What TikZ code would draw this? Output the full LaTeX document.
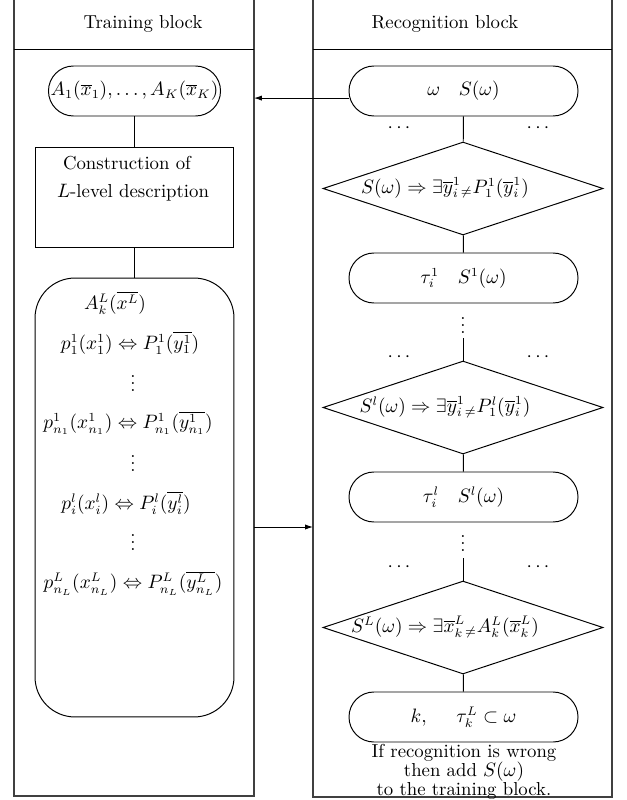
\documentclass[tikz,border=0pt]{standalone}
\usetikzlibrary{arrows.meta,shapes.geometric}
\begin{document}
\begin{tikzpicture}[x=0.565pt,y=-0.565pt,
  every node/.style={font=\fontsize{10.6pt}{12.7pt}\selectfont},
  ln/.style={line width=0.55pt},
  frame/.style={line width=0.8pt,draw=black!75},
  pill/.style={draw,ln,rectangle,rounded corners=14.1pt,minimum width=129.4pt,minimum height=28.25pt,inner sep=0pt},
  boxnode/.style={draw,ln,rectangle,minimum width=112.4pt,inner sep=0pt},
  dia/.style={draw,ln,diamond,aspect=3,minimum width=158.2pt,minimum height=52.5pt,inner sep=0pt},
  arr/.style={ln,-{Latex[length=4.5pt,width=3pt]}},
  txt/.style={inner sep=0pt}]
\useasboundingbox (0,0) rectangle (627,800);
% column frames
\draw[frame] (14,0) -- (14,796) -- (254,796) -- (254,0);
\draw[frame] (313,0) -- (313,797) -- (612,797) -- (612,0);
\draw[ln] (14,49) -- (254,49);
\draw[ln] (313,49) -- (612,49);
\coordinate (trainE) at (254,0);
\node[txt] (th) at (143,24) {Training block};
\node[txt] (rh) at (445,24) {Recognition block};
% training block
\node[pill,minimum width=97.2pt] (pa) at (134.5,91) {$A_1(\overline{x}_1),\ldots,A_K(\overline{x}_K)$};
\node[boxnode,minimum height=56.5pt] (cons) at (134.5,197) {};
\node[txt] (c1) at (127,163) {Construction of};
\node[txt] (c2) at (133,193) {$L$-level description};
\node[boxnode,rounded corners=22.6pt,minimum height=248pt] (desc) at (134.5,497.5) {};
\draw[ln] (pa) -- (cons);
\draw[ln] (cons) -- (desc);
\node[txt] (e0) at (115,303) {$A_k^L(\overline{x^L})$};
\node[txt] (e1) at (130,343) {$p_1^1(x_1^1)\Leftrightarrow P_1^1(\overline{y_1^1})$};
\node[txt] (v1) at (133,378) {$\vdots$};
\node[txt] (e2) at (128,423) {$p_{n_1}^1(x_{n_1}^1)\Leftrightarrow P_{n_1}^1(\overline{y_{n_1}^1})$};
\node[txt] (v2) at (133,458) {$\vdots$};
\node[txt] (e3) at (126,503) {$p_i^l(x_i^l)\Leftrightarrow P_i^l(\overline{y_i^l})$};
\node[txt] (v3) at (133,537) {$\vdots$};
\node[txt] (e4) at (133,583) {$p_{n_L}^L(x_{n_L}^L)\Leftrightarrow P_{n_L}^L(\overline{y_{n_L}^L})$};
% recognition block
\node[pill] (pw) at (463.5,91) {$\omega\quad S(\omega)$};
\node[txt] (dl1) at (399,128) {$\cdots$};
\node[txt] (dr1) at (538,128) {$\cdots$};
\node[dia] (d1) at (463,188.5) {};
\node[txt] (t1) at (445,188) {$S(\omega)\Rightarrow\exists\overline{y}^1_i{}_{\neq}P^1_1(\overline{y}^1_i)$};
\node[pill] (p1) at (463.5,278) {$\tau_i^1\quad S^1(\omega)$};
\node[txt] (rv1) at (463,320) {$\vdots$};
\coordinate (s2) at (463,338);
\node[txt] (dl2) at (399,357) {$\cdots$};
\node[txt] (dr2) at (538,357) {$\cdots$};
\node[dia] (d2) at (463,407.5) {};
\node[txt] (t2) at (445,407) {$S^l(\omega)\Rightarrow\exists\overline{y}^1_i{}_{\neq}P^l_1(\overline{y}^1_i)$};
\node[pill] (pl) at (463.5,497) {$\tau_i^l\quad S^l(\omega)$};
\node[txt] (rv2) at (463,538) {$\vdots$};
\coordinate (s3) at (463,558);
\node[txt] (dl3) at (399,567) {$\cdots$};
\node[txt] (dr3) at (538,567) {$\cdots$};
\node[dia] (d3) at (463,627.5) {};
\node[txt] (t3) at (445,627) {$S^L(\omega)\Rightarrow\exists\overline{x}^L_k{}_{\neq}A^L_k(\overline{x}^L_k)$};
\node[pill] (pk) at (463.5,717) {$k,\hspace{15pt}\tau_k^L\subset\omega$};
\node[txt,anchor=north,align=center,font={\fontsize{10.6pt}{10.8pt}\selectfont}] (note) at (464,744) {If recognition is wrong\\ then add $S(\omega)$\\ to the training block.};
\draw[ln] (pw) -- (d1);
\draw[ln] (d1) -- (p1);
\draw[ln] (s2) -- (d2.north);
\draw[ln] (d2) -- (pl);
\draw[ln] (s3) -- (d3.north);
\draw[ln] (d3) -- (pk);
% arrows
\coordinate (aw) at ([yshift=-4pt]pw.west);
\draw[arr] (aw) -- (aw -| trainE);
\coordinate (t2r) at (254,527);
\coordinate (r2l) at (313,527);
\draw[arr] (t2r) -- (r2l);
\end{tikzpicture}
\end{document}
